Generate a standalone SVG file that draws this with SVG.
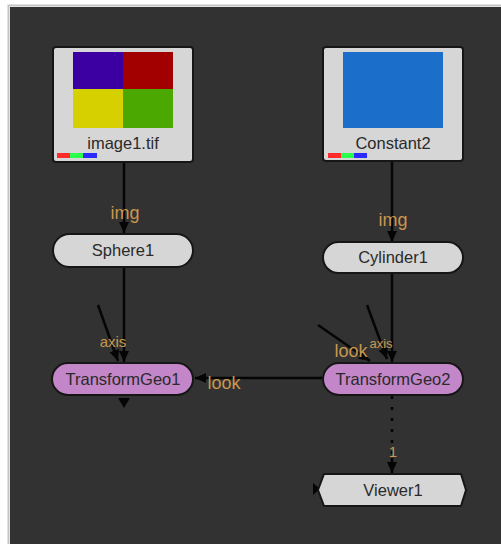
<svg xmlns="http://www.w3.org/2000/svg" width="501" height="544" viewBox="0 0 501 544">
<style>
.nm{font-family:"Liberation Sans",Arial,sans-serif;font-size:16.5px;fill:#2a2a2a;text-anchor:middle}
.lb{font-family:"Liberation Sans",Arial,sans-serif;font-size:18px;fill:#c9974f;text-anchor:middle}
.box{fill:#d6d6d6;stroke:#161616;stroke-width:2}
.tg{fill:#c286c9;stroke:#161616;stroke-width:2}
.e{stroke:#050505;stroke-width:2.5;fill:none}
</style>
<defs>
<marker id="ah" markerUnits="userSpaceOnUse" markerWidth="12" markerHeight="12" viewBox="0 0 12 12" refX="11" refY="6" orient="auto">
<path d="M0,1 L11,6 L0,11 Z" fill="#050505"/>
</marker>
</defs>
<rect x="0" y="0" width="501" height="544" fill="#ffffff"/>
<rect x="8.5" y="5.5" width="500" height="545" fill="none" stroke="#c4c4c4" stroke-width="2"/>
<rect x="10" y="7" width="491" height="537" fill="#323232"/>

<g id="connectors">
<line class="e" x1="124" y1="162" x2="124" y2="233" marker-end="url(#ah)"/>
<line class="e" x1="392" y1="161" x2="392" y2="242" marker-end="url(#ah)"/>
<line class="e" x1="124" y1="267" x2="124" y2="362" marker-end="url(#ah)"/>
<line class="e" x1="98" y1="305" x2="118" y2="361" marker-end="url(#ah)"/>
<line class="e" x1="392" y1="273" x2="392" y2="362" marker-end="url(#ah)"/>
<line class="e" x1="367" y1="305" x2="387" y2="359" marker-end="url(#ah)"/>
<line class="e" x1="318" y1="325" x2="370" y2="361" marker-end="url(#ah)"/>
<line class="e" x1="323" y1="378" x2="195" y2="378" marker-end="url(#ah)"/>
<line class="e" x1="392" y1="396" x2="392" y2="462" stroke-dasharray="3,8"/>
<line class="e" x1="392" y1="458" x2="392" y2="473" marker-end="url(#ah)"/>
<path d="M118,398 L130,398 L124,408 Z" fill="#050505"/>
<path d="M313,483 L320,489 L313,495 Z" fill="#050505"/>
<text class="lb" x="125" y="219">img</text>
<text class="lb" x="393" y="226">img</text>
<text class="lb" x="113" y="347" style="font-size:15px">axis</text>
<text class="lb" x="224" y="389">look</text>
<text class="lb" x="351" y="357">look</text>
<text class="lb" x="381" y="348" style="font-size:13px">axis</text>
<text class="lb" x="393" y="457" style="font-size:15px">1</text>
</g>

<g id="image1">
<rect class="box" x="53" y="47" width="140" height="115" rx="3"/>
<rect x="73" y="52" width="50" height="37" fill="#3c00a2"/>
<rect x="123" y="52" width="50" height="37" fill="#a20000"/>
<rect x="73" y="89" width="50" height="39" fill="#d6d000"/>
<rect x="123" y="89" width="50" height="39" fill="#4aa800"/>
<text class="nm" x="123" y="149">image1.tif</text>
<rect x="57" y="153" width="13" height="5" fill="#ff2a2a"/>
<rect x="70" y="153" width="13" height="5" fill="#2aff4a"/>
<rect x="83" y="153" width="14" height="5" fill="#2a2aff"/>
</g>

<g id="constant2">
<rect class="box" x="323" y="47" width="140" height="114" rx="3"/>
<rect x="343" y="52" width="100" height="76" fill="#1b6ec9"/>
<text class="nm" x="393" y="149">Constant2</text>
<rect x="328" y="153" width="13" height="5" fill="#ff2a2a"/>
<rect x="341" y="153" width="13" height="5" fill="#2aff4a"/>
<rect x="354" y="153" width="13" height="5" fill="#2a2aff"/>
</g>

<g id="sphere1">
<rect class="box" x="53" y="234" width="140" height="33" rx="16.5"/>
<text class="nm" x="123" y="256">Sphere1</text>
</g>

<g id="cylinder1">
<rect class="box" x="323" y="242" width="140" height="31" rx="15.5"/>
<text class="nm" x="393" y="263">Cylinder1</text>
</g>

<g id="transformgeo1">
<rect class="tg" x="52" y="363" width="141" height="32" rx="16"/>
<text class="nm" x="123" y="385">TransformGeo1</text>
</g>

<g id="transformgeo2">
<rect class="tg" x="323" y="363" width="140" height="32" rx="16"/>
<text class="nm" x="393" y="385">TransformGeo2</text>
</g>

<g id="viewer1">
<path class="box" d="M318,490 L324,474 L461,474 L466,490 L461,506 L324,506 Z" stroke-linejoin="round"/>
<text class="nm" x="393" y="496">Viewer1</text>
</g>
</svg>
